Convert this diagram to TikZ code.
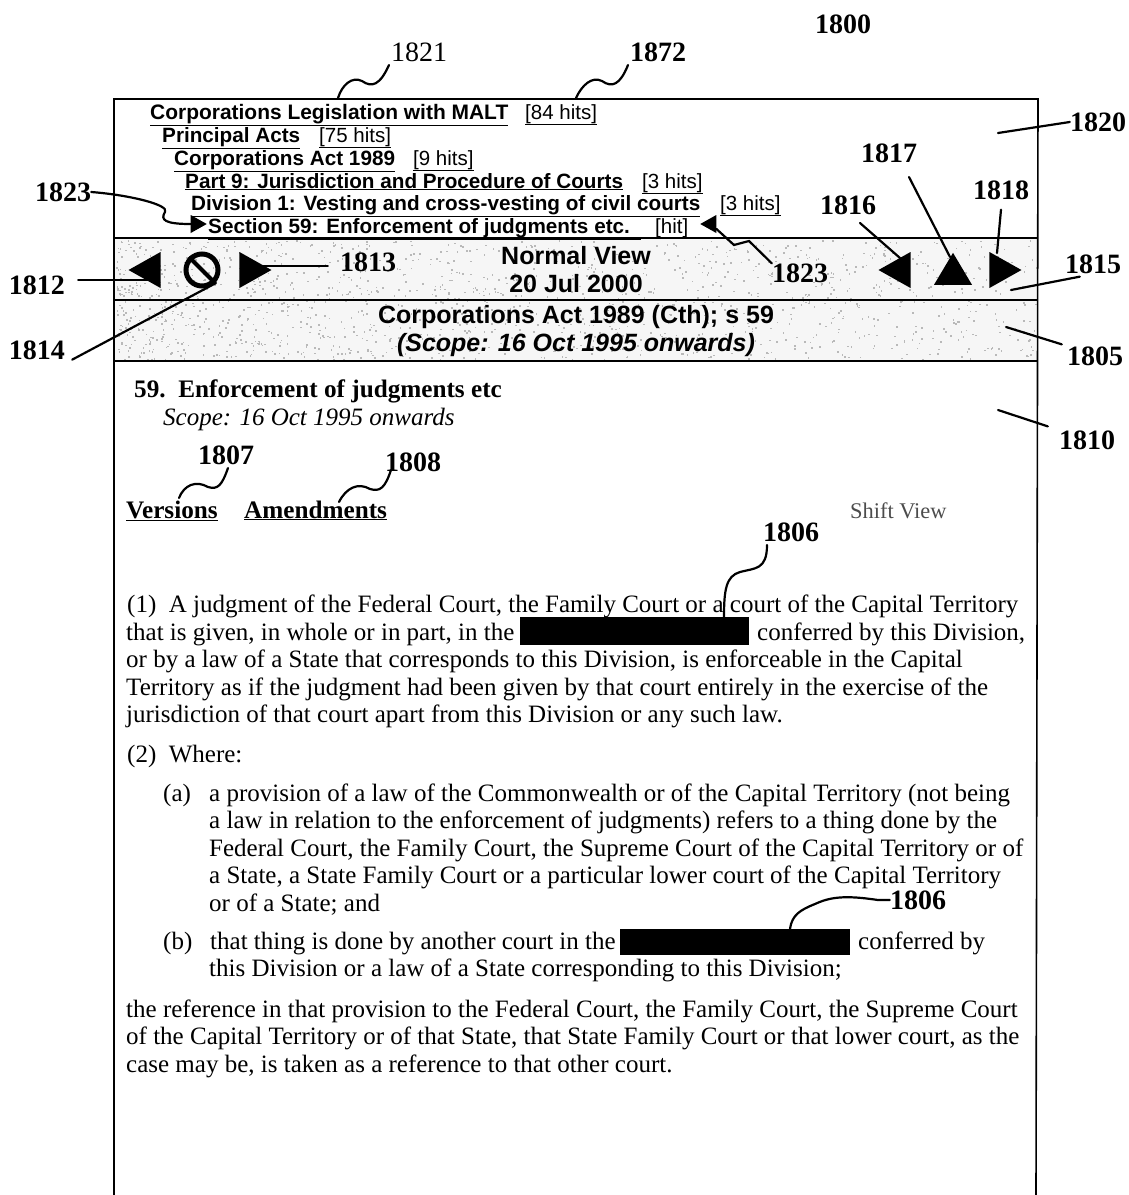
\documentclass[tikz,border=0pt]{standalone}
\usepackage{fontspec}
\setmainfont{Liberation Serif}
\newfontfamily\navfont{Liberation Sans}
\usetikzlibrary{shapes.geometric}
\newcommand{\sized}[1]{\fontsize{#1}{#1}\selectfont}
\tikzset{
  reflabel/.style={inner sep=0pt,font=\sized{28}\bfseries},
  navlink/.style={inner sep=0pt,anchor=base west,font=\navfont\sized{20.7}\bfseries},
  navhits/.style={inner sep=0pt,anchor=base west,font=\navfont\sized{20.5}},
  bandtext/.style={inner sep=0pt,font=\navfont\sized{25}\bfseries},
  bodyline/.style={inner sep=0pt,anchor=base west,font=\sized{25}},
  headline/.style={inner sep=0pt,anchor=base west,font=\sized{25.2}\bfseries},
  leader/.style={line width=2.2pt,line cap=round},
  bigarrow/.style={isosceles triangle,isosceles triangle stretches,fill=black,inner sep=0pt,minimum width=36pt,minimum height=32pt},
  smallarrow/.style={isosceles triangle,isosceles triangle stretches,fill=black,inner sep=0pt,minimum width=18pt,minimum height=16pt}
}
\begin{document}
\begin{tikzpicture}[x=1pt,y=-1pt]
    \useasboundingbox (0,0) rectangle (1129,1195);
    % shaded bands
    \fill[gray!7] (115,239) rectangle (1037,361);
    \pgfmathsetseed{18}
    \foreach \i in {1,...,1500} {
        \pgfmathsetmacro{\dx}{116+920*rnd^1.3}
        \pgfmathsetmacro{\dy}{240+120*rnd}
        \fill[gray!55] (\dx,\dy) rectangle +(1.6,1.6);
    }
    % frame
    \draw[line width=1.6pt] (114,1195) -- (114,99) -- (1038,99) -- (1036,1195);
    \draw[line width=1.6pt] (114,238) -- (1038,238) (114,300) -- (1038,300) (114,361) -- (1038,361);

    % tree of links
    \node at (150,119) [navlink,font=\navfont\sized{20.95}\bfseries] (t1) {\underline{Corporations Legislation with MALT}};
    \node at (525,119) [navhits] (h1) {\underline{[84 hits]}};
    \node at (162,142) [navlink] (t2) {\underline{Principal Acts}};
    \node at (319,142) [navhits] (h2) {\underline{[75 hits]}};
    \node at (174,165) [navlink] (t3) {\underline{Corporations Act 1989}};
    \node at (413,165) [navhits] (h3) {\underline{[9 hits]}};
    \node at (185,188) [navlink] (t4) {\underline{Part 9: Jurisdiction and Procedure of Courts}};
    \node at (642,188) [navhits] (h4) {\underline{[3 hits]}};
    \node at (191,210) [navlink] (t5) {\underline{Division 1: Vesting and cross-vesting of civil courts}};
    \node at (720,210) [navhits] (h5) {\underline{[3 hits]}};
    \node at (208,233) [navlink] (t6) {\underline{Section 59: Enforcement of judgments etc.\ \ }};
    \node at (655,233) [navhits] (h6) {\underline{[hit]}};
    \node at (196,224) [smallarrow] (markl) {};
    \node at (711,224) [smallarrow,shape border rotate=180] (markr) {};

    % band texts
    \node at (576,256) [bandtext] (viewa) {Normal View};
    \node at (576,284) [bandtext] (viewb) {20 Jul 2000};
    \node at (576,317) [bandtext] (acta) {Corporations Act 1989 (Cth); s 59};
    \node at (576,345) [bandtext,font=\navfont\sized{25}\bfseries\itshape] (actb) {(Scope: 16 Oct 1995 onwards)};

    % band buttons
    \node at (150,270) [bigarrow,shape border rotate=180] (btnback) {};
    \node at (202,270) [circle,draw,line width=5pt,minimum size=32pt,inner sep=0pt] (btnstop) {};
    \draw[line width=4pt] (btnstop.north west) -- (btnstop.south east);
    \node at (250,270) [bigarrow] (btnnext) {};
    \node at (900,270) [bigarrow,shape border rotate=180] (btnprev) {};
    \node at (953,274) [bigarrow,shape border rotate=90,minimum width=38pt,minimum height=32pt] (btnup) {};
    \node at (1000,270) [bigarrow] (btnfwd) {};

    % section text
    \node at (134,397) [headline] (s1) {59.\ \ Enforcement of judgments etc};
    \node at (163,425) [bodyline,font=\sized{25}\itshape] (s2) {Scope: 16 Oct 1995 onwards};
    \node at (126,518) [headline] (vers) {\underline{Versions}};
    \node at (244,518) [headline] (amend) {\underline{Amendments}};
    \node at (850,518) [bodyline,font=\sized{22.4},text=black!70] (shift) {Shift View};
    \node at (127,612) [bodyline] (p1) {(1)\ \ A judgment of the Federal Court, the Family Court or a court of the Capital Territory};
    \node at (126,640) [bodyline] (p2a) {that is given, in whole or in part, in the};
    \node at (757,640) [bodyline] (p2b) {conferred by this Division,};
    \node at (126,667) [bodyline] (p3) {or by a law of a State that corresponds to this Division, is enforceable in the Capital};
    \node at (126,695) [bodyline] (p4) {Territory as if the judgment had been given by that court entirely in the exercise of the};
    \node at (126,722) [bodyline] (p5) {jurisdiction of that court apart from this Division or any such law.};
    \node at (127,762) [bodyline] (p6) {(2)\ \ Where:};
    \node at (163,801) [bodyline] (a0) {(a)};
    \node at (209,801) [bodyline] (a1) {a provision of a law of the Commonwealth or of the Capital Territory (not being};
    \node at (209,828) [bodyline] (a2) {a law in relation to the enforcement of judgments) refers to a thing done by the};
    \node at (209,856) [bodyline] (a3) {Federal Court, the Family Court, the Supreme Court of the Capital Territory or of};
    \node at (209,883) [bodyline] (a4) {a State, a State Family Court or a particular lower court of the Capital Territory};
    \node at (209,911) [bodyline] (a5) {or of a State; and};
    \node at (163,949) [bodyline] (b0) {(b)};
    \node at (210,949) [bodyline] (b1a) {that thing is done by another court in the};
    \node at (858,949) [bodyline] (b1b) {conferred by};
    \node at (209,976) [bodyline] (b2) {this Division or a law of a State corresponding to this Division;};
    \node at (126,1017) [bodyline] (c1) {the reference in that provision to the Federal Court, the Family Court, the Supreme Court};
    \node at (126,1044) [bodyline] (c2) {of the Capital Territory or of that State, that State Family Court or that lower court, as the};
    \node at (126,1072) [bodyline] (c3) {case may be, is taken as a reference to that other court.};
    \node at (634.5,631) [fill=black,inner sep=0pt,minimum width=229pt,minimum height=28pt] (maska) {};
    \node at (735,942) [fill=black,inner sep=0pt,minimum width=230pt,minimum height=26pt] (maskb) {};

    % reference numerals
    \node at (843,24) [reflabel] (l1800) {1800};
    \node at (419,52) [reflabel,font=\sized{28}] (l1821) {1821};
    \node at (658,52) [reflabel] (l1872) {1872};
    \node at (1098,122) [reflabel] (l1820) {1820};
    \node at (889,153) [reflabel] (l1817) {1817};
    \node at (1001,190) [reflabel] (l1818) {1818};
    \node at (848,205) [reflabel] (l1816) {1816};
    \node at (63,192) [reflabel] (l1823a) {1823};
    \node at (800,273) [reflabel] (l1823b) {1823};
    \node at (368,262) [reflabel] (l1813) {1813};
    \node at (37,285) [reflabel] (l1812) {1812};
    \node at (1093,264) [reflabel] (l1815) {1815};
    \node at (37,350) [reflabel] (l1814) {1814};
    \node at (1095,356) [reflabel] (l1805) {1805};
    \node at (1087,440) [reflabel] (l1810) {1810};
    \node at (226,455) [reflabel] (l1807) {1807};
    \node at (413,462) [reflabel] (l1808) {1808};
    \node at (791,532) [reflabel] (l1806a) {1806};
    \node at (918,900) [reflabel] (l1806b) {1806};

    % leader ends
    \coordinate (e1821) at (338,98);
    \coordinate (e1872) at (576,98);
    \coordinate (e1820) at (998,133);
    \coordinate (e1815) at (1011,290);
    \coordinate (e1805) at (1006,327);
    \coordinate (e1810) at (998,410);
    \coordinate (e1814) at (216,283);
    \coordinate (e1807) at (179,498);
    \coordinate (e1808) at (339,502);
    \coordinate (e1812) at (148,280);
    \coordinate (e1813) at (256,266);
    \coordinate (e1816) at (900,258);
    \coordinate (e1817) at (950,257);
    \coordinate (e1818) at (997,253);

    % leaders
    \draw[leader] (389,65) .. controls (380,85) and (372,88) .. (362,81) .. controls (352,76) and (342,85) .. (e1821);
    \draw[leader] (628,65) .. controls (620,85) and (612,88) .. (602,81) .. controls (592,76) and (582,85) .. (e1872);
    \draw[leader] (l1820.west) -- (e1820);
    \draw[leader] (909,177) -- (e1817);
    \draw[leader] (l1818.south) ++(0,10) -- (e1818);
    \draw[leader] (860,223) -- (e1816);
    \draw[leader] (l1823a.east) .. controls (130,195) and (170,205) .. (165,212) .. controls (160,220) and (165,224) .. (markl.west);
    \draw[leader] (markr) -- (734,245) -- (749,241) -- (l1823b.north west);
    \draw[leader] (l1813.west) ++(-12,4) -- (e1813);
    \draw[leader] (l1812.east) ++(13,-5) -- (e1812);
    \draw[leader] (l1814.south east) ++(7,0) -- (e1814);
    \draw[leader] (l1815.south west) ++(15,3) -- (e1815);
    \draw[leader] (l1805.north west) ++(-5,-2) -- (e1805);
    \draw[leader] (l1810.north west) ++(-11,-4) -- (e1810);
    \draw[leader] (228,468) .. controls (222,485) and (218,490) .. (208,487) .. controls (196,480) and (184,485) .. (e1807);
    \draw[leader] (391,470) .. controls (385,488) and (380,492) .. (370,489) .. controls (358,482) and (346,488) .. (e1808);
    \draw[leader] (767,545) .. controls (767,570) and (755,568) .. (740,572) .. controls (726,576) and (724,590) .. (maska.north -| 724,617);
    \draw[leader] (l1806b.west) -- ++(-12,0) .. controls (845,895) and (830,897) .. (815,904) .. controls (800,910) and (792,915) .. (maskb.north -| 790,929);
\end{tikzpicture}
\end{document}
